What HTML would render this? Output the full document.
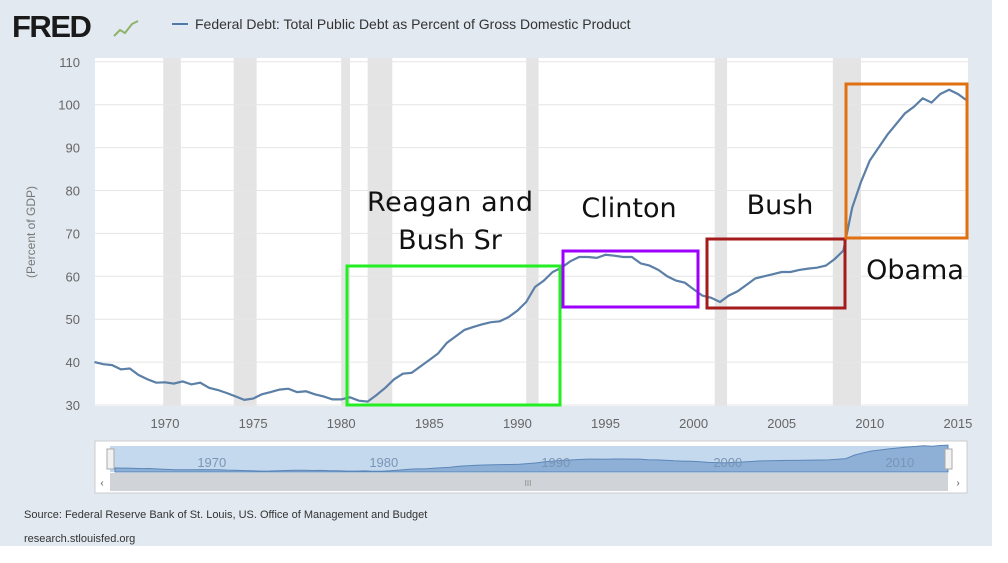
<!DOCTYPE html>
<html><head><meta charset="utf-8"><style>
body{margin:0;width:1008px;height:558px;background:#fff;overflow:hidden;font-family:"Liberation Sans",sans-serif}
</style></head><body>
<svg width="1008" height="558" xmlns="http://www.w3.org/2000/svg" font-family="Liberation Sans, sans-serif">
<rect x="0" y="0" width="992" height="546" fill="#e2e9f0"/>
<text x="12" y="37" font-size="31" font-weight="bold" fill="#1a1a1a" letter-spacing="-1.5">FRED</text>
<polyline points="114,36 120,30 125,33 132,24 138,21" fill="none" stroke="#8fb26a" stroke-width="2"/>
<line x1="172" y1="24" x2="188" y2="24" stroke="#4f79a8" stroke-width="2"/>
<text x="195" y="29" font-size="14" fill="#333">Federal Debt: Total Public Debt as Percent of Gross Domestic Product</text>
<rect x="95" y="58" width="873" height="348" fill="#fff"/>
<g id="rec"></g><g id="grid"></g><g id="xt"></g>
<text transform="translate(35,232) rotate(-90)" text-anchor="middle" font-size="12" fill="#777">(Percent of GDP)</text>
<path id="line" fill="none" stroke="#5b7fa6" stroke-width="2.2"/>
<g fill="none" stroke-width="3">
<rect x="347" y="266" width="213" height="139" stroke="#22ee22"/>
<rect x="563" y="251" width="135" height="56" stroke="#9d00ff"/>
<rect x="707" y="239" width="138" height="69" stroke="#a31b1b"/>
<rect x="846" y="84" width="121" height="154" stroke="#e07010"/>
</g>
<g font-family="DejaVu Sans, sans-serif" font-size="27" fill="#111" text-anchor="middle">
<text x="450" y="211" textLength="166">Reagan and</text>
<text x="450" y="249">Bush Sr</text>
<text x="629" y="217">Clinton</text>
<text x="780" y="214">Bush</text>
<text x="915" y="279">Obama</text>
</g>
<rect x="95" y="441" width="872" height="52" fill="#fff" stroke="#ccc"/>
<rect x="110" y="446" width="838" height="26" fill="#c5d9ee"/>
<path id="nav" fill="#8eb0d6" stroke="#5b86b8"/>
<g id="navt"></g>
<rect x="107" y="449" width="7" height="20" fill="#f2f2f2" stroke="#aaa"/>
<rect x="945" y="449" width="7" height="20" fill="#f2f2f2" stroke="#aaa"/>
<rect x="110" y="473" width="838" height="18" fill="#d0d4d8"/>
<text x="102" y="486" font-size="10" fill="#555" text-anchor="middle">‹</text>
<text x="958" y="486" font-size="10" fill="#555" text-anchor="middle">›</text>
<text x="528" y="486" font-size="8" fill="#888" text-anchor="middle">III</text>
<text x="24" y="518" font-size="11" fill="#333">Source: Federal Reserve Bank of St. Louis, US. Office of Management and Budget</text>
<text x="24" y="542" font-size="11" fill="#333">research.stlouisfed.org</text>
</svg>
<script>
const years=[1966,1966.5,1967,1967.5,1968,1968.5,1969,1969.5,1970,1970.5,1971,1971.5,1972,1972.5,1973,1973.5,1974,1974.5,1975,1975.5,1976,1976.5,1977,1977.5,1978,1978.5,1979,1979.5,1980,1980.5,1981,1981.5,1982,1982.5,1983,1983.5,1984,1984.5,1985,1985.5,1986,1986.5,1987,1987.5,1988,1988.5,1989,1989.5,1990,1990.5,1991,1991.5,1992,1992.5,1993,1993.5,1994,1994.5,1995,1995.5,1996,1996.5,1997,1997.5,1998,1998.5,1999,1999.5,2000,2000.5,2001,2001.5,2002,2002.5,2003,2003.5,2004,2004.5,2005,2005.5,2006,2006.5,2007,2007.5,2008,2008.5,2009,2009.5,2010,2010.5,2011,2011.5,2012,2012.5,2013,2013.5,2014,2014.5,2015,2015.5];
const debt=[40,39.5,39.3,38.3,38.5,37,36,35.2,35.3,35,35.5,34.8,35.2,34,33.5,32.8,32,31.2,31.5,32.5,33,33.6,33.8,33,33.2,32.5,32,31.3,31.3,31.8,31,30.8,32.3,34,36,37.3,37.5,39,40.5,42,44.5,46,47.5,48.2,48.8,49.3,49.5,50.5,52,54,57.5,59,61,62,63.5,64.5,64.5,64.3,65,64.8,64.5,64.5,63,62.5,61.5,60,59,58.5,57,55.5,55,54,55.5,56.5,58,59.5,60,60.5,61,61,61.5,61.8,62,62.5,64,66,76,82,87,90,93,95.5,98,99.5,101.5,100.5,102.5,103.5,102.5,101];
const yTicks=[30,40,50,60,70,80,90,100,110];
const xTicks=[1970,1975,1980,1985,1990,1995,2000,2005,2010,2015];
const navTicks=[1970,1980,1990,2000,2010];
const recStart=[1969.9,1973.9,1980.0,1981.5,1990.5,2001.2,2007.9];
const recEnd=[1970.9,1975.2,1980.5,1982.9,1991.2,2001.9,2009.5];
const NS="http://www.w3.org/2000/svg";
const X=y=>165+(y-1970)*17.62, Y=v=>405-(v-30)*4.29;
const NX=y=>115+(y-1966)*17.2, NY=v=>473-(v-26)*0.36;
function mk(t,p,a){const e=document.createElementNS(NS,t);for(const k in a)e.setAttribute(k,a[k]);p.appendChild(e);return e;}
const rec=document.getElementById('rec'),grid=document.getElementById('grid'),xt=document.getElementById('xt'),navt=document.getElementById('navt');
recStart.forEach((s,i)=>{const r=mk('rect',rec,{x:X(s),y:58,width:X(recEnd[i])-X(s),height:348,fill:'#e4e4e4'});

});
yTicks.forEach(v=>{const l=mk('line',grid,{x1:95,x2:968,y1:Y(v),y2:Y(v),stroke:'#e6e6e6'});


const t=mk('text',grid,{x:80,y:Y(v)+5,'text-anchor':'end','font-size':13,fill:'#666'});t.textContent=v;

});
xTicks.forEach(v=>{const t=mk('text',xt,{x:X(v),y:428,'text-anchor':'middle','font-size':13,fill:'#666'});t.textContent=v;

});
document.getElementById('line').setAttribute('d',years.map((y,i)=>(i?'L':'M')+X(y).toFixed(1)+','+Y(debt[i]).toFixed(1)).join(''));
const nx=years.map(y=>Math.min(NX(y),948));
document.getElementById('nav').setAttribute('d','M'+nx[0]+',472'+years.map((y,i)=>'L'+nx[i].toFixed(1)+','+NY(debt[i]).toFixed(1)).join('')+'L948,472Z');
navTicks.forEach(v=>{const t=mk('text',navt,{x:NX(v)+28,y:467,'text-anchor':'middle','font-size':13,fill:'#7a95b5'});t.textContent=v;

});
</script>
</body></html>
